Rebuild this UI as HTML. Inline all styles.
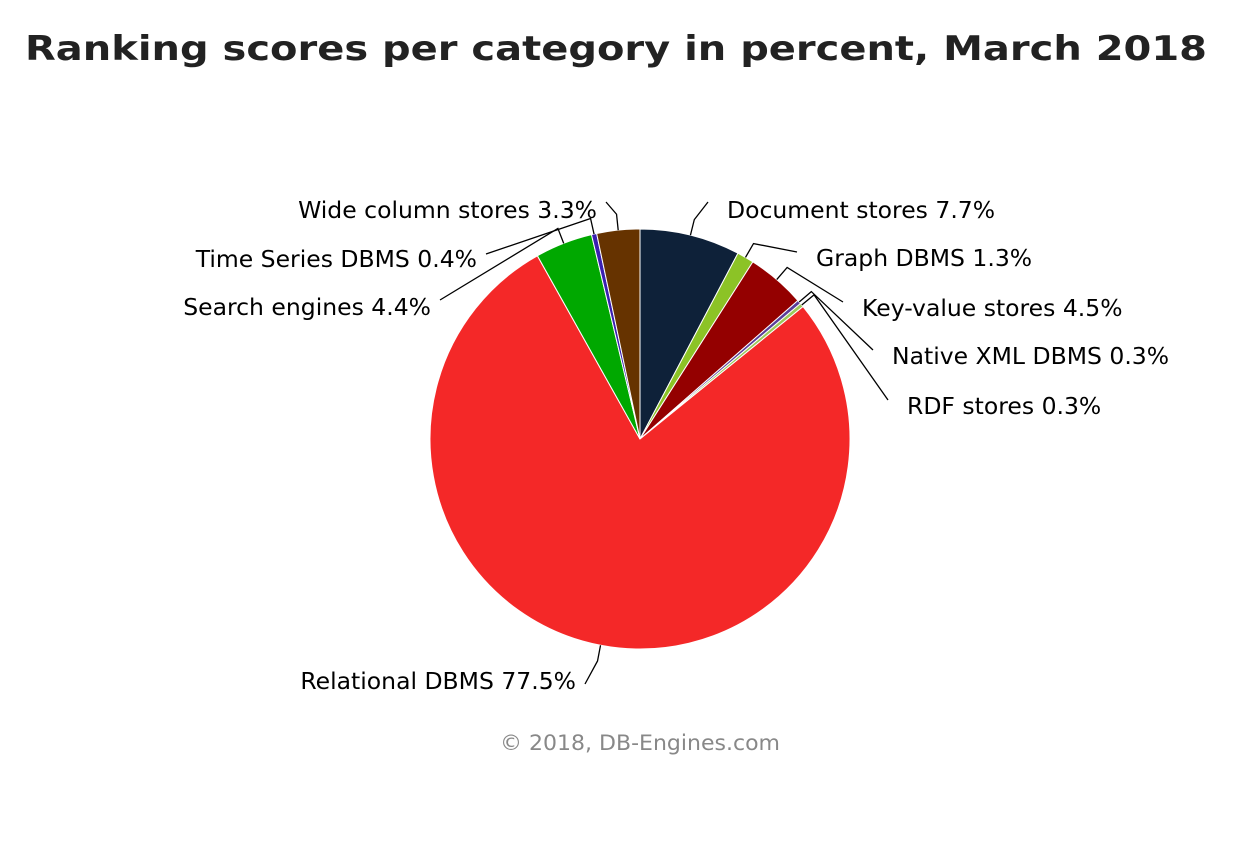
<!DOCTYPE html>
<html><head><meta charset="utf-8"><style>
body{margin:0;background:#fff;width:1239px;height:837px;overflow:hidden}
text{font-family:"DejaVu Sans","Liberation Sans",sans-serif}
</style></head><body>
<svg id="chart" width="1239" height="837" xmlns="http://www.w3.org/2000/svg">
<text x="616" y="60" text-anchor="middle" font-size="34" font-weight="bold" fill="#222" textLength="1182" lengthAdjust="spacingAndGlyphs">Ranking scores per category in percent, March 2018</text>
<g id="slices"></g><g id="labels"></g>
<text x="640" y="750" text-anchor="middle" font-size="21" fill="#888" textLength="280" lengthAdjust="spacingAndGlyphs">© 2018, DB-Engines.com</text>
</svg>
<script>
const categories=["Document stores","Graph DBMS","Key-value stores","Native XML DBMS","RDF stores","Relational DBMS","Search engines","Time Series DBMS","Wide column stores"];
const values=[7.7,1.3,4.5,0.3,0.3,77.5,4.4,0.4,3.3];
const colors=["#0e2139","#8cc326","#940000","#5a3d99","#9cc85a","#f42828","#00a800","#3a1fb0","#663300"];
const labelAnchors=[[708,202,"s"],[797,252,"s"],[843,302,"s"],[873,350,"s"],[888,400,"s"],[585,684,"e"],[440,300,"e"],[486,254,"e"],[606,202,"e"]];
const labelCenters=[210,258,308,356,406,681,307,259,210];
const cx=640,cy=439,r=210;
const NS="http://www.w3.org/2000/svg";
const total=values.reduce((a,b)=>a+b,0);
const sg=document.getElementById('slices'),lg=document.getElementById('labels');
function pt(a,rr){return [cx+rr*Math.sin(a),cy-rr*Math.cos(a)];}
let a0=0;
values.forEach((v,i)=>{
  const a1=a0+v/total*2*Math.PI;
  const p0=pt(a0,r),p1=pt(a1,r);
  const large=(a1-a0)>Math.PI?1:0;
  const p=document.createElementNS(NS,'path');
  p.setAttribute('d',`M${cx},${cy}L${p0[0]},${p0[1]}A${r},${r} 0 ${large} 1 ${p1[0]},${p1[1]}Z`);
  p.setAttribute('fill',colors[i]);p.setAttribute('stroke','#fff');p.setAttribute('stroke-width','1');
  
  
  sg.appendChild(p);
  const m=(a0+a1)/2,e=pt(m,r),o=pt(m,r+16),an=labelAnchors[i];
  const l=document.createElementNS(NS,'polyline');
  l.setAttribute('points',`${e[0]},${e[1]} ${o[0]},${o[1]} ${an[0]},${an[1]}`);
  l.setAttribute('fill','none');l.setAttribute('stroke','#000');l.setAttribute('stroke-width','1.3');
  
  
  lg.appendChild(l);
  const t=document.createElementNS(NS,'text');
  const left=an[2]==="s";
  t.setAttribute('x',left?an[0]+19:an[0]-9);t.setAttribute('y',labelCenters[i]+8);
  t.setAttribute('text-anchor',left?'start':'end');t.setAttribute('font-size','23.5');t.setAttribute('fill','#000');
  t.textContent=categories[i]+' '+v+'%';
  
  
  lg.appendChild(t);
  a0=a1;
});
</script>
</body></html>
